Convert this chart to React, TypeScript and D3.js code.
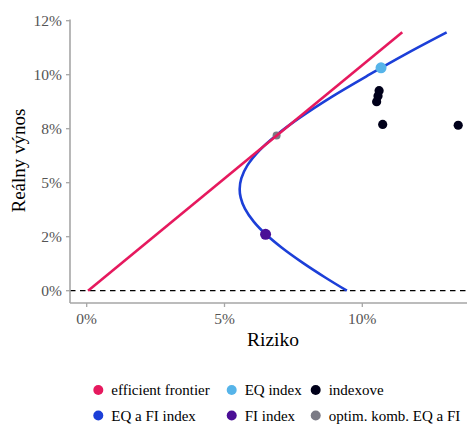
import * as d3 from 'd3'

// frontier curve (EQ a FI index), risk % vs real return %
const frontierRisk = [9.44, 8.67, 7.83, 7.07, 6.51, 6.06, 5.74, 5.59, 5.55, 5.61, 5.83, 6.27, 6.88, 7.72, 8.92, 10.25, 11.64, 13.06]
const frontierRet = [0.0, 0.6, 1.3, 2.0, 2.6, 3.2, 3.8, 4.3, 4.7, 5.2, 5.8, 6.5, 7.2, 8.0, 9.0, 10.0, 11.0, 11.96]

// efficient frontier (capital market line)
const cmlRisk = [0.05, 11.45]
const cmlRet = [0, 11.96]

const indexRisk = [10.61, 10.57, 10.52, 10.74, 13.48]
const indexRet = [9.26, 9.01, 8.75, 7.7, 7.66]

const eqIndex = [10.68, 10.32]
const fiIndex = [6.49, 2.61]
const optim = [6.89, 7.18]

const xTicks = [0, 5, 10]
const xTickLabels = ['0%', '5%', '10%']
const yTicks = [0, 2.5, 5, 7.5, 10, 12.5]
const yTickLabels = ['0%', '2%', '5%', '8%', '10%', '12%']

const legendRows = [
    [
        { label: 'efficient frontier', color: '#e6195e' },
        { label: 'EQ index', color: '#56b4e9' },
        { label: 'indexove', color: '#00001a' }
    ],
    [
        { label: 'EQ a FI index', color: '#1c3fd8' },
        { label: 'FI index', color: '#4b0f96' },
        { label: 'optim. komb. EQ a FI', color: '#7a7a85' }
    ]
]

const FONT = '"Liberation Serif", serif'

export default function App() {
    const W = 468
    const H = 424
    const panel = { left: 70, right: 467, top: 19.5, bottom: 303 }

    const x = d3.scaleLinear().domain([0, 10]).range([86.7, 362.3])
    const y = d3.scaleLinear().domain([0, 12.5]).range([290.7, 20.7])

    const curve = d3
        .line<number>()
        .x(i => x(frontierRisk[i]))
        .y(i => y(frontierRet[i]))
        .curve(d3.curveCatmullRom)(frontierRisk.map((_, i) => i))

    const cml = d3
        .line<number>()
        .x(i => x(cmlRisk[i]))
        .y(i => y(cmlRet[i]))(cmlRisk.map((_, i) => i))

    const axisColor = '#a6a6a6'
    const tickText = '#555555'
    const legX = [98.3, 231.7, 315.7]
    const legY = [390, 415.5]

    return (
        <svg width={W} height={H} style={{ display: 'block', position: 'absolute', left: 0, top: 0 }}>
            <rect width={W} height={H} fill="#fff" />

            {/* dashed zero line */}
            <line x1={panel.left} x2={panel.right} y1={y(0)} y2={y(0)} stroke="#000" strokeWidth={1.3} strokeDasharray="5.5,4.5" />

            <path d={curve} fill="none" stroke="#1c3fd8" strokeWidth={2.6} />
            <circle cx={x(optim[0])} cy={y(optim[1])} r={4} fill="#7a7a85" />
            <path d={cml} fill="none" stroke="#e6195e" strokeWidth={2.6} />

            <circle cx={x(eqIndex[0])} cy={y(eqIndex[1])} r={5.5} fill="#56b4e9" />
            <circle cx={x(fiIndex[0])} cy={y(fiIndex[1])} r={5.5} fill="#4b0f96" />
            {indexRisk.map((r, i) => (
                <circle key={i} cx={x(r)} cy={y(indexRet[i])} r={4.6} fill="#00001a" />
            ))}

            {/* axes */}
            <line x1={panel.left} x2={panel.left} y1={panel.top} y2={panel.bottom} stroke={axisColor} strokeWidth={1.6} />
            <line x1={panel.left} x2={panel.right} y1={panel.bottom} y2={panel.bottom} stroke={axisColor} strokeWidth={1.6} />

            {yTicks.map((t, i) => (
                <g key={t}>
                    <line x1={panel.left - 4} x2={panel.left} y1={y(t)} y2={y(t)} stroke={axisColor} strokeWidth={1.3} />
                    <text x={panel.left - 8} y={y(t)} dy="0.35em" textAnchor="end" fontFamily={FONT} fontSize={15.5} fill={tickText}>
                        {yTickLabels[i]}
                    </text>
                </g>
            ))}
            {xTicks.map((t, i) => (
                <g key={t}>
                    <line x1={x(t)} x2={x(t)} y1={panel.bottom} y2={panel.bottom + 4} stroke={axisColor} strokeWidth={1.3} />
                    <text x={x(t)} y={319} dy="0.35em" textAnchor="middle" fontFamily={FONT} fontSize={15.5} fill={tickText}>
                        {xTickLabels[i]}
                    </text>
                </g>
            ))}

            <text x={273} y={339} dy="0.35em" textAnchor="middle" fontFamily={FONT} fontSize={19.5} fill="#000">
                Riziko
            </text>
            <text transform={`translate(18,160.5) rotate(-90)`} dy="0.35em" textAnchor="middle" fontFamily={FONT} fontSize={19} fill="#000">
                Reálny výnos
            </text>

            {legendRows.map((row, r) =>
                row.map((item, c) => (
                    <g key={item.label}>
                        <circle cx={legX[c]} cy={legY[r]} r={5} fill={item.color} />
                        <text x={legX[c] + 13} y={legY[r]} dy="0.35em" fontFamily={FONT} fontSize={15} fill="#000">
                            {item.label}
                        </text>
                    </g>
                ))
            )}
        </svg>
    )
}
